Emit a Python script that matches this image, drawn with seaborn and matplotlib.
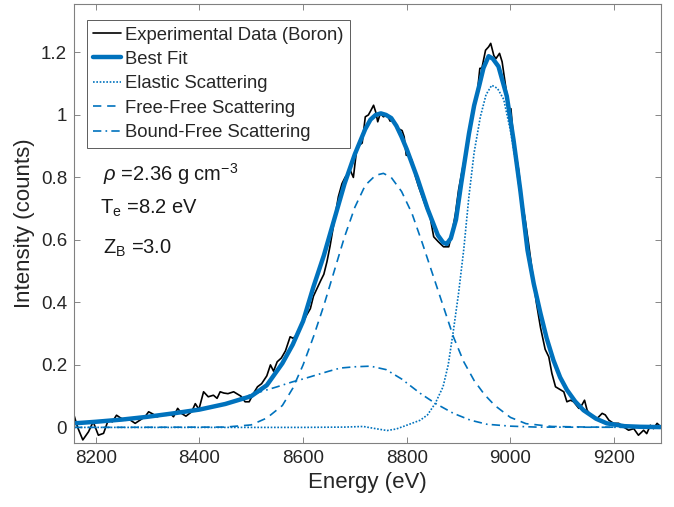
import pandas as pd
import matplotlib.pyplot as plt
import seaborn as sns

sns.set_theme(style="white")
plt.rcParams['font.family'] = ['Liberation Sans', 'DejaVu Sans']
plt.rcParams['mathtext.fontset'] = 'custom'
plt.rcParams['mathtext.rm'] = 'Liberation Sans'
plt.rcParams['mathtext.it'] = 'Liberation Sans:italic'

# experimental spectrum
exp_e = [8158, 8165, 8175, 8186, 8195, 8205, 8215, 8224, 8232, 8240, 8248, 8257, 8266, 8276,
         8285, 8295, 8302, 8310, 8318, 8327, 8337, 8344, 8350, 8358, 8366, 8374, 8385, 8392,
         8399, 8408, 8417, 8427, 8434, 8440, 8447, 8455, 8466, 8474, 8480, 8488, 8496, 8504,
         8512, 8520, 8530, 8537, 8543, 8550, 8558, 8566, 8575, 8581, 8590, 8598, 8607, 8614,
         8620, 8627, 8634, 8640, 8646, 8652, 8659, 8668, 8675, 8681, 8691, 8697, 8704, 8714,
         8720, 8726, 8731, 8736, 8740, 8744, 8749, 8755, 8762, 8768, 8772, 8778, 8785, 8791,
         8795, 8799, 8804, 8810, 8817, 8823, 8830, 8836, 8845, 8852, 8861, 8871, 8881, 8887,
         8894, 8900, 8907, 8916, 8926, 8936, 8941, 8945, 8952, 8958, 8962, 8968, 8972, 8979,
         8984, 8990, 8997, 9001, 9006, 9016, 9022, 9028, 9035, 9042, 9050, 9058, 9067, 9074,
         9080, 9087, 9097, 9103, 9109, 9116, 9122, 9132, 9138, 9143, 9148, 9157, 9167, 9177,
         9183, 9190, 9199, 9209, 9218, 9228, 9238, 9247, 9257, 9263, 9270, 9276, 9283, 9290]
exp_i = [0.039, 0.000, -0.040, -0.014, 0.018, -0.025, -0.019, 0.023, 0.018, 0.039, 0.030, 0.023,
         0.024, 0.013, 0.023, 0.034, 0.050, 0.043, 0.034, 0.039, 0.039, 0.044, 0.034, 0.061,
         0.044, 0.036, 0.050, 0.076, 0.058, 0.114, 0.098, 0.103, 0.093, 0.114, 0.110, 0.108,
         0.114, 0.106, 0.100, 0.082, 0.082, 0.108, 0.130, 0.140, 0.165, 0.200, 0.180, 0.210,
         0.222, 0.245, 0.290, 0.285, 0.300, 0.330, 0.360, 0.380, 0.420, 0.445, 0.470, 0.490,
         0.530, 0.580, 0.650, 0.738, 0.780, 0.800, 0.823, 0.800, 0.898, 0.910, 0.994, 1.000,
         1.015, 1.031, 1.010, 0.978, 1.005, 0.994, 1.000, 0.980, 0.990, 0.967, 0.955, 0.950,
         0.930, 0.871, 0.870, 0.855, 0.802, 0.770, 0.738, 0.710, 0.674, 0.610, 0.594, 0.578,
         0.578, 0.620, 0.685, 0.760, 0.823, 0.898, 0.994, 1.069, 1.149, 1.150, 1.207, 1.218,
         1.229, 1.190, 1.180, 1.197, 1.170, 1.100, 1.020, 1.020, 0.920, 0.823, 0.727, 0.670,
         0.589, 0.500, 0.400, 0.320, 0.250, 0.226, 0.173, 0.130, 0.120, 0.114, 0.082, 0.087,
         0.082, 0.061, 0.072, 0.087, 0.055, 0.034, 0.028, 0.045, 0.040, 0.023, 0.013, 0.013,
         0.002, -0.009, -0.004, -0.025, -0.009, -0.020, 0.007, -0.004, 0.013, 0.002]

# best fit
fit_e = [8158, 8200, 8250, 8300, 8350, 8400, 8450, 8500, 8530, 8560, 8580, 8600, 8620, 8640,
         8660, 8680, 8700, 8720, 8730, 8740, 8750, 8760, 8770, 8780, 8790, 8800, 8820, 8840,
         8860, 8870, 8877, 8885, 8895, 8905, 8920, 8930, 8940, 8948, 8958, 8966, 8977, 8993,
         9006, 9019, 9033, 9045, 9058, 9070, 9083, 9096, 9109, 9125, 9141, 9165, 9186, 9220,
         9250, 9290]
fit_i = [0.013, 0.018, 0.025, 0.034, 0.045, 0.057, 0.075, 0.100, 0.135, 0.205, 0.265, 0.340,
         0.450, 0.550, 0.665, 0.780, 0.875, 0.955, 0.985, 1.000, 1.005, 1.000, 0.990, 0.965,
         0.930, 0.890, 0.800, 0.700, 0.615, 0.592, 0.587, 0.605, 0.665, 0.780, 0.940, 1.030,
         1.095, 1.150, 1.188, 1.180, 1.155, 1.060, 0.920, 0.760, 0.567, 0.460, 0.365, 0.285,
         0.215, 0.160, 0.120, 0.083, 0.055, 0.028, 0.013, 0.004, 0.002, 0.001]

# elastic component
el_e = [8158, 8400, 8600, 8680, 8716, 8740, 8762, 8780, 8800, 8826, 8840, 8855, 8870, 8880,
        8890, 8900, 8910, 8920, 8930, 8942, 8953, 8964, 8975, 8987, 9000, 9010, 9020, 9033,
        9045, 9058, 9070, 9083, 9096, 9109, 9125, 9141, 9165, 9186, 9220, 9290]
el_i = [0.0, 0.0, 0.0, 0.001, 0.003, -0.004, -0.010, -0.005, 0.007, 0.023, 0.040, 0.077,
        0.130, 0.200, 0.310, 0.430, 0.570, 0.740, 0.880, 0.994, 1.065, 1.095, 1.085, 1.050,
        0.950, 0.850, 0.730, 0.555, 0.450, 0.358, 0.280, 0.212, 0.157, 0.117, 0.081, 0.053,
        0.026, 0.012, 0.003, 0.0]

# free-free component
ff_e = [8158, 8450, 8500, 8530, 8560, 8580, 8600, 8620, 8640, 8660, 8680, 8700, 8720, 8740,
        8755, 8770, 8790, 8810, 8830, 8850, 8870, 8890, 8910, 8930, 8950, 8970, 9000, 9030,
        9080, 9150, 9290]
ff_i = [0.0, 0.001, 0.008, 0.030, 0.070, 0.125, 0.200, 0.290, 0.390, 0.500, 0.610, 0.705,
        0.775, 0.807, 0.813, 0.800, 0.755, 0.685, 0.590, 0.490, 0.390, 0.290, 0.210, 0.150,
        0.105, 0.070, 0.032, 0.012, 0.003, 0.001, 0.0]

# bound-free component
bf_e = [8158, 8200, 8250, 8300, 8350, 8400, 8450, 8500, 8550, 8580, 8600, 8650, 8672, 8700,
        8730, 8760, 8790, 8826, 8855, 8890, 8923, 8955, 9000, 9050, 9290]
bf_i = [0.013, 0.018, 0.025, 0.034, 0.045, 0.057, 0.075, 0.105, 0.130, 0.146, 0.155, 0.180,
        0.190, 0.194, 0.196, 0.185, 0.155, 0.109, 0.077, 0.045, 0.023, 0.010, 0.004, 0.001, 0.0]

blue = '#0072BD'

fig = plt.figure(figsize=(6.74, 5.07), dpi=100)
ax = fig.add_axes([0.1098, 0.1268, 0.8705, 0.8647])

sns.lineplot(x=exp_e, y=exp_i, ax=ax, color='black', linewidth=1.2,
             estimator=None, sort=False, label='Experimental Data (Boron)')
sns.lineplot(x=fit_e, y=fit_i, ax=ax, color=blue, linewidth=3.2,
             estimator=None, sort=False, label='Best Fit')
sns.lineplot(x=el_e, y=el_i, ax=ax, color=blue, linewidth=1.2, linestyle=(0, (1, 1)),
             estimator=None, sort=False, label='Elastic Scattering')
sns.lineplot(x=ff_e, y=ff_i, ax=ax, color=blue, linewidth=1.2, linestyle=(0, (5, 3.5)),
             estimator=None, sort=False, label='Free-Free Scattering')
sns.lineplot(x=bf_e, y=bf_i, ax=ax, color=blue, linewidth=1.2, linestyle=(0, (5, 2.5, 1, 2.5)),
             estimator=None, sort=False, label='Bound-Free Scattering')

ax.set_xlim(8158, 9290)
ax.set_ylim(-0.049, 1.354)
ax.set_xticks([8200, 8400, 8600, 8800, 9000, 9200])
ax.set_yticks([0, 0.2, 0.4, 0.6, 0.8, 1.0, 1.2])
ax.set_yticklabels(['0', '0.2', '0.4', '0.6', '0.8', '1', '1.2'])
ax.set_xlabel('Energy (eV)', fontsize=16, color='0.15')
ax.set_ylabel('Intensity (counts)', fontsize=16, color='0.15', labelpad=4)
ax.tick_params(direction='in', length=4.5, width=0.6, color='0.45', labelsize=13.5,
               labelcolor='0.15', top=True, right=True, bottom=True, left=True, pad=5)
for s in ax.spines.values():
    s.set_color('0.5')
    s.set_linewidth(0.8)

leg = ax.legend(loc='upper left', bbox_to_anchor=(0.022, 0.964), borderaxespad=0,
                fontsize=13.3, frameon=True, fancybox=False, edgecolor='0.2',
                handlelength=1.5, handletextpad=0.2, labelspacing=0.4,
                borderpad=0.35)
leg.get_frame().set_linewidth(0.7)

ax.text(8214, 0.788, r'$\rho$ =2.36 g cm$^{-3}$', fontsize=14.5, color='0.1')
ax.text(8208, 0.683, r'T$_{\rm e}$ =8.2 eV', fontsize=14.5, color='0.1')
ax.text(8214, 0.555, r'Z$_{\rm B}$ =3.0', fontsize=14.5, color='0.1')

fig.savefig('out.png', dpi=100)
